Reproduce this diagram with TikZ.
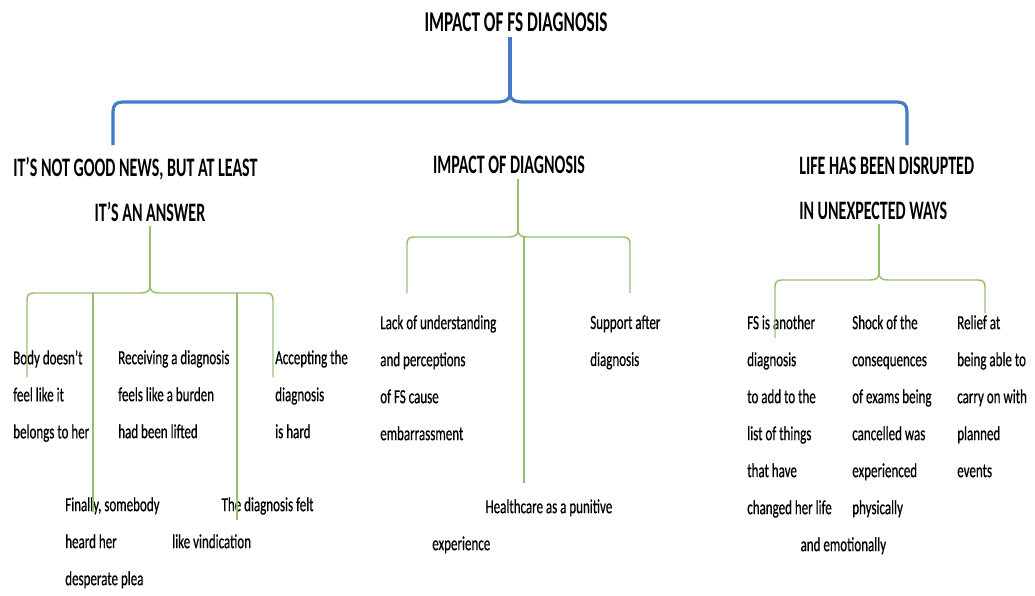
\documentclass[tikz,border=0pt]{standalone}
\usepackage{fontspec}
\setmainfont{Carlito}[FakeStretch=0.65,Ligatures=TeX]
\newfontfamily\headfont{Carlito}[FakeStretch=0.6,Ligatures=TeX]
\newfontfamily\codefont{Carlito}[FakeStretch=0.65,FakeBold=0.5,Ligatures=TeX]
\usetikzlibrary{positioning,calc}
\definecolor{branchblue}{RGB}{68,122,198}
\definecolor{leafgreen}{RGB}{150,192,112}

\begin{document}
\begin{tikzpicture}[x=0.75pt, y=-0.75pt,
    title/.style={font=\headfont\bfseries\fontsize{21.5}{26}\selectfont, inner sep=0pt},
    theme/.style={font=\headfont\bfseries\fontsize{20}{33.75}\selectfont, align=left,
                  inner sep=0pt, anchor=north west},
    code/.style={font=\codefont\fontsize{15}{27.75}\selectfont, align=left,
                 inner sep=0pt, anchor=north west},
    toplink/.style={branchblue, line width=2.4pt},
    sublink/.style={leafgreen, line width=1.1pt}
]
    \useasboundingbox (0,0) rectangle (1035,596);

    % Title
    \node[title] (root) at (516,22) {IMPACT OF FS DIAGNOSIS};

    % Themes
    \node[theme] (answer) at (13,157) {IT'S NOT GOOD NEWS, BUT AT LEAST\\\hspace*{61pt}IT'S AN ANSWER};
    \node[theme, anchor=center] (impact) at (509,165) {IMPACT OF DIAGNOSIS};
    \node[theme] (life) at (799,157) {LIFE HAS BEEN DISRUPTED\\IN UNEXPECTED WAYS};

    % Top brace
    \coordinate (rootTip) at (510,94);
    \coordinate (answerEnd) at (113,145);
    \coordinate (lifeEnd) at (907,145);
    \draw[toplink] ([yshift=-4pt]root.south -| rootTip) -- (rootTip);
    \draw[toplink] (answerEnd) -- (113,112) .. controls (113,105) and (116,102) .. (123,102)
        -- (496,102) .. controls (505,102) and (510,100) .. (rootTip)
        .. controls (510,100) and (515,102) .. (524,102)
        -- (897,102) .. controls (904,102) and (907,105) .. (907,112) -- (lifeEnd);

    % Theme 1: not good news
    \node[code] (body) at (13,350) {Body doesn't\\feel like it\\belongs to her};
    \node[code] (burden) at (118,350) {Receiving a diagnosis\\feels like a burden\\had been lifted};
    \node[code] (accept) at (275,350) {Accepting the\\diagnosis\\is hard};
    \node[code] (plea) at (65,497) {Finally, somebody\\heard her\\desperate plea};
    \node[code] (vind) at (172,497) {\hspace*{37pt}The diagnosis felt\\like vindication};
    \coordinate (tipA) at (150,286);
    \coordinate (barA) at (150,293);
    \coordinate (bodyEnd) at (27,377);
    \coordinate (acceptEnd) at (273,377);
    \coordinate (pleaEnd) at (93,512);
    \coordinate (vindEnd) at (237,520);
    \draw[sublink] ([yshift=-3pt]answer.south -| tipA) -- (tipA);
    \draw[sublink] (bodyEnd) -- (27,300) .. controls (27,295) and (29,293) .. (34,293)
        -- (141,293) .. controls (147,293) and (150,291) .. (tipA)
        .. controls (150,291) and (153,293) .. (159,293)
        -- (266,293) .. controls (271,293) and (273,295) .. (273,300) -- (acceptEnd);
    \draw[sublink] (pleaEnd |- barA) -- (pleaEnd);
    \draw[sublink] (vindEnd |- barA) -- (vindEnd);

    % Theme 2: impact of diagnosis
    \node[code] (stigma) at (380,315) {Lack of understanding\\and perceptions\\of FS cause\\embarrassment};
    \node[code] (support) at (590,315) {Support after\\diagnosis};
    \node[code] (punitive) at (432,499) {\hspace*{40pt}Healthcare as a punitive\\experience};
    \coordinate (tipB) at (518,230);
    \coordinate (barB) at (518,237);
    \coordinate (stigmaEnd) at (407,293);
    \coordinate (supportEnd) at (630,293);
    \coordinate (punitiveEnd) at (524,483);
    \draw[sublink] ([yshift=-4pt]impact.south -| tipB) -- (tipB);
    \draw[sublink] (stigmaEnd) -- (407,244) .. controls (407,239) and (409,237) .. (414,237)
        -- (509,237) .. controls (515,237) and (518,235) .. (tipB)
        .. controls (518,235) and (521,237) .. (527,237)
        -- (623,237) .. controls (628,237) and (630,239) .. (630,244) -- (supportEnd);
    \draw[sublink] (punitiveEnd |- barB) -- (punitiveEnd);

    % Theme 3: life disrupted
    \node[code] (another) at (747,315) {FS is another\\diagnosis\\to add to the\\list of things\\that have\\changed her life\\\hspace*{40pt}and emotionally};
    \node[code] (shock) at (852,315) {Shock of the\\consequences\\of exams being\\cancelled was\\experienced\\physically};
    \node[code] (relief) at (957,315) {Relief at\\being able to\\carry on with\\planned\\events};
    \coordinate (tipC) at (879,273);
    \coordinate (anotherEnd) at (775,338);
    \coordinate (reliefEnd) at (985,313);
    \draw[sublink] ([yshift=-3pt]life.south -| tipC) -- (tipC);
    \draw[sublink] (anotherEnd) -- (775,287) .. controls (775,282) and (777,280) .. (782,280)
        -- (870,280) .. controls (876,280) and (879,278) .. (tipC)
        .. controls (879,278) and (882,280) .. (888,280)
        -- (978,280) .. controls (983,280) and (985,282) .. (985,287) -- (reliefEnd);
\end{tikzpicture}
\end{document}
